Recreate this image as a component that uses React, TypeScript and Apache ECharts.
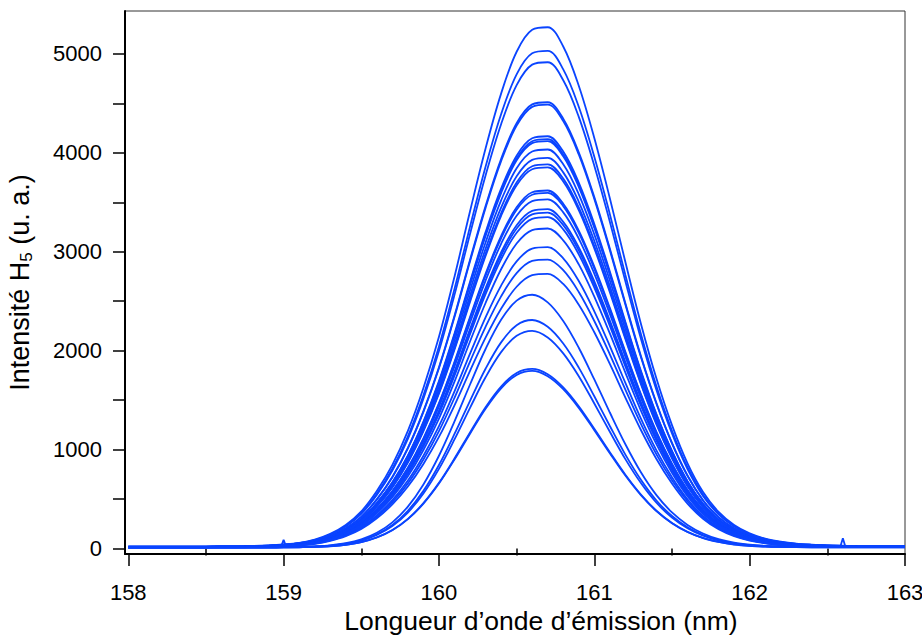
import { useEffect, useRef } from 'react';
import * as echarts from 'echarts';

// Wavelength sampling of the spectra (nm)
const wavelengths = [
  158.0, 158.1, 158.2, 158.3, 158.4, 158.5, 158.6, 158.7, 158.8, 158.9,
  159.0, 159.1, 159.2, 159.3, 159.4, 159.5, 159.6, 159.7, 159.8, 159.9,
  160.0, 160.1, 160.2, 160.3, 160.4, 160.5, 160.6, 160.7, 160.8, 160.9,
  161.0, 161.1, 161.2, 161.3, 161.4, 161.5, 161.6, 161.7, 161.8, 161.9,
  162.0, 162.1, 162.2, 162.3, 162.4, 162.5, 162.6, 162.7, 162.8, 162.9,
  163.0,
];

// Normalised line shape (peak ~160.66 nm)
const profileBroad = [
  0.004, 0.004, 0.004, 0.004, 0.004, 0.004, 0.0045, 0.0045, 0.005, 0.006,
  0.008, 0.011, 0.017, 0.028, 0.045, 0.071, 0.11, 0.16, 0.225, 0.307,
  0.405, 0.52, 0.645, 0.765, 0.87, 0.95, 0.992, 0.997, 0.96, 0.885,
  0.785, 0.67, 0.548, 0.43, 0.325, 0.236, 0.163, 0.108, 0.07, 0.045,
  0.029, 0.019, 0.013, 0.0095, 0.0075, 0.0062, 0.0055, 0.005, 0.005, 0.005,
  0.005,
];

// Normalised line shape (peak ~160.57 nm)
const profileNarrow = [
  0.005, 0.005, 0.005, 0.005, 0.005, 0.005, 0.005, 0.005, 0.005, 0.0055,
  0.006, 0.007, 0.009, 0.013, 0.021, 0.036, 0.062, 0.103, 0.165, 0.252,
  0.365, 0.5, 0.645, 0.785, 0.9, 0.975, 0.998, 0.968, 0.895, 0.79,
  0.665, 0.535, 0.41, 0.3, 0.21, 0.142, 0.093, 0.059, 0.037, 0.023,
  0.015, 0.011, 0.009, 0.008, 0.007, 0.0065, 0.0065, 0.0065, 0.0065, 0.0065,
  0.0065,
];

// Peak intensities of each spectrum (a.u.)
const peaksBroad = [
  5285, 5045, 4930, 4525, 4500, 4180, 4150, 4130, 4045, 3960, 3895,
  3865, 3630, 3605, 3540, 3440, 3405, 3360, 3245, 3055, 2930, 2785,
];
const peaksNarrow = [2570, 2315, 2205, 1820, 1800];

// Small artefact spikes on the baseline
const spikeLeft = [[158.985, 24], [159.0, 88], [159.015, 24]];
const spikeRight = [[162.585, 26], [162.6, 104], [162.615, 26]];

const xMajorTicks = [158, 159, 160, 161, 162, 163];
const xMinorTicks = [158.5, 159.5, 160.5, 161.5, 162.5];
const yTicks = [0, 500, 1000, 1500, 2000, 2500, 3000, 3500, 4000, 4500, 5000];
const yLabels = [0, 1000, 2000, 3000, 4000, 5000];

const LINE_COLOR = '#0a44ff';
const FONT = '"Liberation Sans", Arial, sans-serif';

export default function App() {
  const ref = useRef<HTMLDivElement>(null);

  useEffect(() => {
    if (!ref.current) return;
    const chart = echarts.init(ref.current, undefined, { renderer: 'svg' });

    const makeSeries = (peak: number, profile: number[], i: number) => ({
      type: 'line',
      name: 'spectre ' + i,
      xAxisIndex: 0,
      yAxisIndex: 0,
      data: wavelengths.map((w, k) => [w, Math.round(peak * profile[k])]),
      showSymbol: false,
      smooth: 0.35,
      silent: true,
      lineStyle: { color: LINE_COLOR, width: 1.8 },
    });

    const series: any[] = [
      ...peaksBroad.map((p, i) => makeSeries(p, profileBroad, i)),
      ...peaksNarrow.map((p, i) => makeSeries(p, profileNarrow, i + peaksBroad.length)),
      {
        type: 'line', data: spikeLeft, showSymbol: false, silent: true,
        lineStyle: { color: LINE_COLOR, width: 1.8 },
      },
      {
        type: 'line', data: spikeRight, showSymbol: false, silent: true,
        lineStyle: { color: LINE_COLOR, width: 1.8 },
      },
    ];

    const plain = (v: number) => String(v);

    chart.setOption({
      animation: false,
      backgroundColor: '#ffffff',
      grid: {
        left: 125, right: 17, top: 11, bottom: 83,
        show: true, borderColor: '#333', borderWidth: 1,
        containLabel: false, outerBoundsMode: 'none',
      },
      xAxis: [
        {
          type: 'value', min: 157.979, max: 163, position: 'bottom',
          axisLine: { show: true, onZero: false, lineStyle: { color: '#000', width: 2 } },
          axisTick: { show: true, inside: false, length: 12, customValues: xMajorTicks, lineStyle: { color: '#000', width: 1.5 } },
          axisLabel: { customValues: xMajorTicks, formatter: plain, fontSize: 22, color: '#000', fontFamily: FONT, margin: 27 },
          splitLine: { show: false },
          name: 'Longueur d’onde d’émission (nm)',
          nameLocation: 'middle', nameGap: 52,
          nameTextStyle: { fontSize: 26.5, color: '#000', fontFamily: FONT, padding: [0, 0, 0, 52] },
        },
        {
          type: 'value', min: 157.979, max: 163, position: 'bottom', gridIndex: 0,
          axisLine: { show: false },
          axisTick: { show: true, inside: false, length: 7, customValues: xMinorTicks, lineStyle: { color: '#000', width: 1.5 } },
          axisLabel: { show: false },
          splitLine: { show: false },
        },
      ],
      yAxis: {
        type: 'value', min: -55, max: 5433,
        axisLine: { show: true, onZero: false, lineStyle: { color: '#000', width: 2 } },
        axisTick: { show: true, inside: false, length: 12, customValues: yTicks, lineStyle: { color: '#000', width: 1.5 } },
        axisLabel: { customValues: yLabels, formatter: plain, fontSize: 22, color: '#000', fontFamily: FONT, margin: 23 },
        splitLine: { show: false },
        name: 'Intensité H{sub|5} (u. a.)',
        nameLocation: 'middle', nameGap: 90, nameRotate: 90,
        nameTextStyle: {
          fontSize: 27, color: '#000', fontFamily: FONT, padding: [0, 0, 0, 0],
          rich: { sub: { fontSize: 17, color: '#000', fontFamily: FONT, verticalAlign: 'bottom', padding: [14, 0, 0, 0] } },
        },
      },
      series,
    });

    return () => chart.dispose();
  }, []);

  return (
    <div
      ref={ref}
      style={{ position: 'fixed', left: 0, top: 0, width: 922, height: 637, background: '#fff' }}
    />
  );
}
